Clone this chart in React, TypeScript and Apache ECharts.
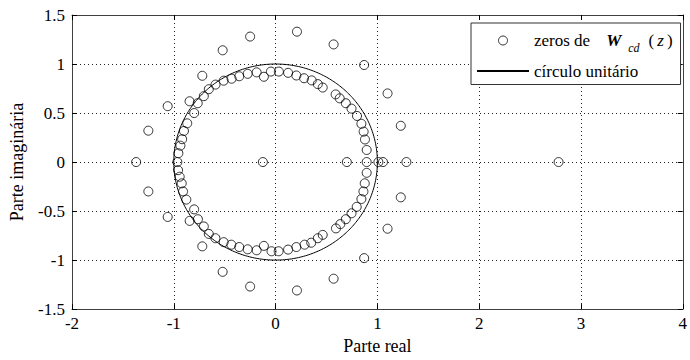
import React, { useEffect, useRef } from "react";
import * as echarts from "echarts";

const FONT = "Liberation Serif";

// Axis ranges / ticks
const X_MIN = -2;
const X_MAX = 4;
const X_STEP = 1;
const Y_MIN = -1.5;
const Y_MAX = 1.5;
const Y_STEP = 0.5;

const ZEROS_NAME = "zeros de W_cd(z)";
const CIRCLE_NAME = "círculo unitário";
const X_NAME = "Parte real";
const Y_NAME = "Parte imaginária";

// Zeros
const innerUpper: number[][] = [
  [0.895, 0.123], [0.878, 0.23], [0.865, 0.31], [0.843, 0.39], [0.8, 0.47],
  [0.746, 0.545], [0.69, 0.6], [0.63, 0.65], [0.59, 0.69], [0.463, 0.76],
  [0.415, 0.795], [0.355, 0.833], [0.28, 0.855], [0.204, 0.883], [0.123, 0.91],
  [0.032, 0.923], [-0.046, 0.923], [-0.115, 0.87], [-0.186, 0.915], [-0.274, 0.9],
  [-0.357, 0.875], [-0.432, 0.85], [-0.51, 0.83], [-0.59, 0.79], [-0.656, 0.743],
  [-0.705, 0.672], [-0.765, 0.6], [-0.845, 0.62], [-0.8, 0.5], [-0.868, 0.395],
  [-0.9, 0.317], [-0.918, 0.233], [-0.935, 0.167], [-0.955, 0.09],
];
const innerLower: number[][] = [
  [0.895, -0.11], [0.876, -0.217], [0.863, -0.3], [0.843, -0.377], [0.797, -0.457],
  [0.746, -0.523], [0.69, -0.583], [0.636, -0.633], [0.593, -0.677], [0.463, -0.743],
  [0.415, -0.777], [0.35, -0.823], [0.285, -0.843], [0.204, -0.867], [0.123, -0.893],
  [0.03, -0.91], [-0.04, -0.91], [-0.115, -0.855], [-0.186, -0.9], [-0.274, -0.89],
  [-0.357, -0.867], [-0.435, -0.843], [-0.51, -0.817], [-0.591, -0.777], [-0.656, -0.733],
  [-0.705, -0.657], [-0.763, -0.583], [-0.844, -0.6], [-0.8, -0.483], [-0.877, -0.383],
  [-0.909, -0.3], [-0.922, -0.217], [-0.942, -0.15], [-0.958, -0.083],
];
const realAxis: number[][] = [
  [-1.37, 0], [-0.965, 0], [-0.125, 0], [0.7, 0], [0.895, 0],
  [1.01, 0], [1.055, 0], [1.285, 0], [2.78, 0],
];
const outerUpper: number[][] = [
  [0.21, 1.33], [0.57, 1.2], [0.87, 0.99], [1.1, 0.7], [1.23, 0.37],
  [-0.25, 1.28], [-0.52, 1.14], [-0.72, 0.88], [-1.06, 0.57], [-1.25, 0.32],
];
const outerLower: number[][] = [
  [0.21, -1.31], [0.57, -1.19], [0.87, -0.98], [1.1, -0.68], [1.23, -0.36],
  [-0.25, -1.27], [-0.52, -1.12], [-0.72, -0.86], [-1.06, -0.56], [-1.25, -0.3],
];

// unit circle (the reference curve |z| = 1)
const CIRCLE_STEPS = 360;
const unitCircle: number[][] = [];
for (let i = 0; i <= CIRCLE_STEPS; i++) {
  const t = (2 * Math.PI * i) / CIRCLE_STEPS;
  unitCircle.push([Math.cos(t), Math.sin(t)]);
}

export default function App() {
  const ref = useRef<HTMLDivElement>(null);
  useEffect(() => {
    if (!ref.current) return;
    const chart = echarts.init(ref.current, null, { renderer: "svg" });
    const zeros = [...innerUpper, ...innerLower, ...realAxis, ...outerUpper, ...outerLower];
    const axisLine = { show: true, onZero: false, lineStyle: { color: "#404040", width: 1 } };
    const axisTick = { show: true, inside: true, length: 5, lineStyle: { color: "#000", width: 1 } };
    const splitLine = { show: true, lineStyle: { color: "#222", width: 1, type: [1, 3] } };
    const labelStyle = { fontFamily: FONT, fontSize: 17, color: "#000" };
    chart.setOption({
      animation: false,
      backgroundColor: "#fff",
      textStyle: { fontFamily: FONT },
      grid: { left: 72, right: 2, top: 15, bottom: 46, containLabel: false },
      xAxis: [
        {
          type: "value", min: X_MIN, max: X_MAX, interval: X_STEP, position: "bottom",
          axisLine, axisTick, splitLine,
          axisLabel: { ...labelStyle, margin: 6 },
          name: X_NAME, nameLocation: "middle", nameGap: 27,
          nameTextStyle: { ...labelStyle, fontSize: 18 },
        },
        {
          type: "value", min: X_MIN, max: X_MAX, interval: X_STEP, position: "top",
          axisLine, axisTick, splitLine: { show: false }, axisLabel: { show: false },
        },
      ],
      yAxis: [
        {
          type: "value", min: Y_MIN, max: Y_MAX, interval: Y_STEP, position: "left",
          axisLine, axisTick, splitLine,
          axisLabel: { ...labelStyle, margin: 7 },
          name: Y_NAME, nameLocation: "middle", nameGap: 46,
          nameTextStyle: { ...labelStyle, fontSize: 18 },
        },
        {
          type: "value", min: Y_MIN, max: Y_MAX, interval: Y_STEP, position: "right",
          axisLine, axisTick, splitLine: { show: false }, axisLabel: { show: false },
        },
      ],
      legend: {
        orient: "vertical",
        left: 471,
        top: 23,
        backgroundColor: "#fff",
        borderColor: "#333",
        borderWidth: 1,
        borderRadius: 0,
        padding: [9, 8, 5, 5],
        itemGap: 9,
        itemWidth: 52,
        itemHeight: 9,
        data: [
          { name: ZEROS_NAME, itemStyle: { borderWidth: 1 } },
          { name: CIRCLE_NAME, itemStyle: { opacity: 0 } },
        ],
        formatter: (name: string) =>
          name === ZEROS_NAME
            ? "{t|zeros de}{w|W}{s|cd}{p|(}{z|z}{p|)}"
            : "{t|" + name + "}",
        textStyle: {
          fontFamily: FONT,
          fontSize: 17,
          color: "#000",
          rich: {
            t: { fontFamily: FONT, fontSize: 17, color: "#000" },
            w: { fontFamily: FONT, fontSize: 17, color: "#000", fontStyle: "italic", fontWeight: "bold", padding: [0, 4, 0, 16] },
            s: { fontFamily: FONT, fontSize: 12, color: "#000", fontStyle: "italic", padding: [14, 6, 0, 3] },
            p: { fontFamily: FONT, fontSize: 17, color: "#000", padding: [0, 3, 0, 3] },
            z: { fontFamily: FONT, fontSize: 17, color: "#000", fontStyle: "italic" },
          },
        },
      },
      series: [
        {
          type: "scatter",
          name: ZEROS_NAME,
          xAxisIndex: 0,
          yAxisIndex: 0,
          data: zeros,
          symbol: "circle",
          symbolSize: 9,
          itemStyle: { color: "rgba(255,255,255,0)", borderColor: "#000", borderWidth: 1 },
          z: 3,
        },
        {
          type: "line",
          name: CIRCLE_NAME,
          xAxisIndex: 0,
          yAxisIndex: 0,
          data: unitCircle,
          symbol: "none",
          showSymbol: false,
          smooth: false,
          itemStyle: { color: "#000" },
          lineStyle: { color: "#000", width: 1 },
          z: 2,
        },
      ],
    });
    return () => chart.dispose();
  }, []);
  return (
    <div
      ref={ref}
      style={{ position: "fixed", left: 0, top: 0, width: 690, height: 360, background: "#fff" }}
    />
  );
}
